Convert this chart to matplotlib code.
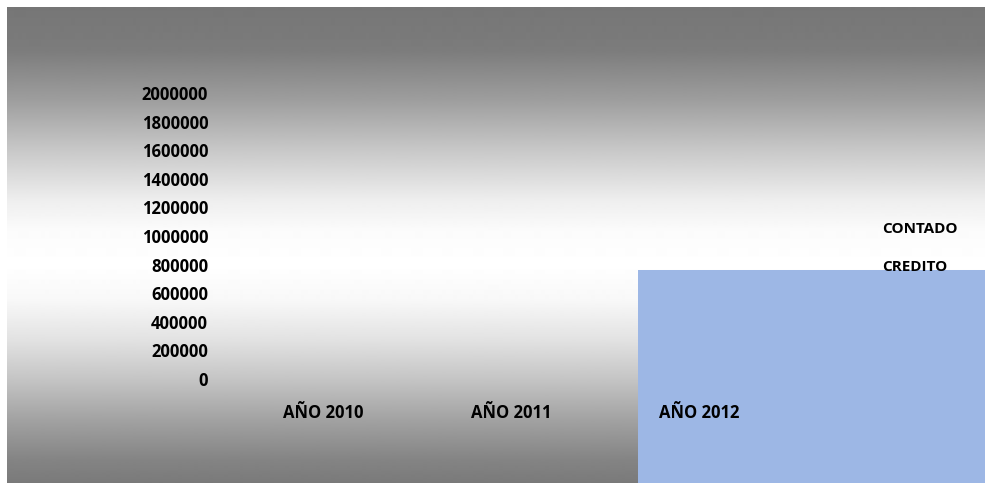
import matplotlib
matplotlib.use('Agg')
import matplotlib.pyplot as plt
import numpy as np
from matplotlib.patches import Rectangle

# data
years = ['AÑO 2010', 'AÑO 2011', 'AÑO 2012']
series = ['CONTADO', 'CREDITO']
contado = [0, 0, 0]
credito = [0, 0, 0]
yticks = [0, 200000, 400000, 600000, 800000, 1000000, 1200000,
          1400000, 1600000, 1800000, 2000000]

plt.rcParams['font.family'] = ['Open Sans', 'DejaVu Sans']
W, H = 985, 483
fig = plt.figure(figsize=(W / 100, H / 100), dpi=100)
fig.patch.set_facecolor('white')

# gray -> white -> gray background
bg = fig.add_axes([7 / W, 0, 1 - 7 / W, (H - 7) / H])
rows = np.arange(7, H)
shade = np.interp(rows,
                  [7, 50, 100, 150, 200, 230, 265, 300, 340, 380, 420, 460, H],
                  [118, 124, 158, 200, 238, 251, 255, 248, 226, 196, 162, 132, 122])
bg.imshow(shade[:, None], cmap='gray', vmin=0, vmax=255, aspect='auto',
          extent=[0, 1, 0, 1], interpolation='bilinear')
bg.axis('off')
bg.set_zorder(0)

# stray blue block
fig.patches.append(Rectangle((638 / W, 0), 1 - 638 / W, 213 / H,
                             transform=fig.transFigure, facecolor='#9db7e5',
                             edgecolor='none', zorder=1))

ax = fig.add_axes([229 / W, (H - 379) / H, 564 / W, 286 / H])
ax.set_zorder(2)
ax.patch.set_alpha(0)
x = np.arange(len(years))
ax.bar(x - 0.2, contado, width=0.35, color='#4f81bd')
ax.bar(x + 0.2, credito, width=0.35, color='#c0504d')
ax.set_xlim(-0.5, 2.5)
ax.set_ylim(0, 2000000)
ax.set_yticks(yticks)
ax.set_yticklabels([str(v) for v in yticks])
ax.set_xticks(x)
ax.set_xticklabels(years)
for s in ax.spines.values():
    s.set_visible(False)
ax.tick_params(axis='y', length=0, pad=15, labelsize=12)
ax.tick_params(axis='x', length=0, pad=18, labelsize=12)
for lab in ax.get_xticklabels() + ax.get_yticklabels():
    lab.set_fontweight('bold')

# legend text (no keys visible)
for i, name in enumerate(series):
    fig.text(882 / W, 1 - (229 + 38 * i) / H, name, fontsize=11,
             fontweight='bold', va='center', ha='left', zorder=3)

fig.savefig('out.png', dpi=100)
